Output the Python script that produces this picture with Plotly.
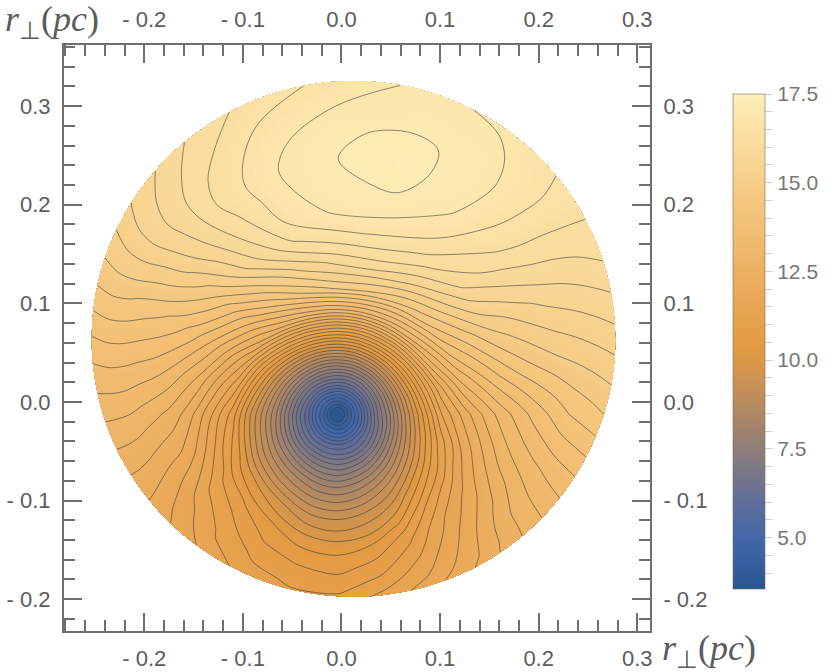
import math
import plotly.graph_objects as go

# Field, one row per ray from the central minimum.
RAY_DEG = [0, 15, 30, 45, 60, 75, 90, 105, 120, 135, 150, 165, 180, 195, 210, 225, 240, 255, 270, 285, 300, 315, 330, 345, 360]
# Inner rings at fixed radius (pc), outer rings as a fraction of the way to the disc edge
RING_R = [0, .0071, .0152, .0233, .0304, .0406, .0507, .0619, .074, .0892, .1065, .1288]
RING_F = [.125, .25, .375, .5, .625, .75, .875, 1]

Z_RAY_000 = [3.55,4.0,4.7,5.4,6.1,7.0,7.7,8.6,9.5,10.5,11.55,12.25,12.7,13.1,13.4,13.7,13.95,14.2,14.35,14.5]
Z_RAY_015 = [3.55,4.0,4.72,5.45,6.15,7.05,7.85,8.8,9.75,10.9,12.0,13.0,13.55,14.0,14.35,14.6,14.8,14.95,15.1,15.25]
Z_RAY_030 = [3.55,4.0,4.73,5.45,6.2,7.1,7.95,8.95,10.0,11.2,12.6,13.7,14.3,14.8,15.1,15.35,15.55,15.7,15.85,16.0]
Z_RAY_045 = [3.55,4.0,4.75,5.5,6.2,7.1,8.0,9.05,10.15,11.45,13.0,14.2,15.0,15.65,16.0,16.25,16.42,16.5,16.55,16.55]
Z_RAY_060 = [3.55,4.0,4.75,5.5,6.2,7.1,8.05,9.1,10.25,11.6,13.2,14.5,15.5,16.2,16.6,16.88,17.02,17.08,17.0,16.85]
Z_RAY_075 = [3.55,4.0,4.75,5.5,6.2,7.1,8.05,9.1,10.25,11.65,13.3,14.8,15.85,16.5,16.93,17.22,17.32,17.28,17.02,16.98]
Z_RAY_090 = [3.55,4.0,4.75,5.5,6.2,7.1,8.05,9.1,10.25,11.65,13.3,14.9,15.8,16.5,16.98,17.17,17.2,17.15,16.92,16.7]
Z_RAY_105 = [3.55,4.0,4.75,5.5,6.2,7.1,8.0,9.05,10.2,11.6,13.2,14.6,15.5,16.25,16.65,16.8,16.87,16.78,16.62,16.45]
Z_RAY_120 = [3.55,4.0,4.73,5.45,6.15,7.05,7.95,8.95,10.05,11.4,12.9,14.0,14.85,15.55,15.9,16.15,16.3,16.27,16.13,15.98]
Z_RAY_135 = [3.55,4.0,4.72,5.4,6.1,6.95,7.85,8.8,9.8,11.05,12.4,13.3,14.0,14.55,14.95,15.25,15.42,15.55,15.52,15.37]
Z_RAY_150 = [3.55,4.0,4.7,5.35,6.05,6.85,7.7,8.6,9.5,10.6,11.8,12.7,13.3,13.75,14.05,14.25,14.4,14.55,14.63,14.6]
Z_RAY_165 = [3.55,4.0,4.7,5.3,5.95,6.75,7.55,8.4,9.2,10.2,11.3,12.1,12.65,13.0,13.3,13.5,13.62,13.72,13.77,13.75]
Z_RAY_180 = [3.55,4.0,4.7,5.3,5.9,6.6,7.4,8.2,8.9,9.75,10.75,11.55,12.0,12.35,12.6,12.75,12.88,13.0,13.05,13.08]
Z_RAY_195 = [3.55,4.0,4.67,5.25,5.85,6.55,7.3,8.05,8.75,9.55,10.45,11.2,11.55,11.85,12.05,12.15,12.25,12.35,12.42,12.45]
Z_RAY_210 = [3.55,4.0,4.65,5.25,5.85,6.5,7.2,7.95,8.6,9.3,10.1,10.8,10.98,11.15,11.32,11.48,11.62,11.72,11.82,11.9]
Z_RAY_225 = [3.55,4.0,4.63,5.2,5.8,6.45,7.15,7.85,8.5,9.15,9.9,10.55,10.7,10.85,10.95,11.05,11.15,11.22,11.32,11.43]
Z_RAY_240 = [3.55,4.0,4.62,5.2,5.8,6.45,7.1,7.75,8.4,9.0,9.7,10.3,10.42,10.52,10.62,10.72,10.82,10.9,11.0,11.07]
Z_RAY_255 = [3.55,4.0,4.6,5.2,5.8,6.4,7.05,7.65,8.25,8.85,9.45,10.1,10.22,10.35,10.48,10.58,10.68,10.76,10.85,10.92]
Z_RAY_270 = [3.55,4.0,4.6,5.2,5.8,6.4,7.0,7.6,8.2,8.8,9.4,10.0,10.15,10.3,10.42,10.52,10.62,10.72,10.82,10.95]
Z_RAY_285 = [3.55,4.0,4.6,5.2,5.8,6.4,7.05,7.7,8.3,8.9,9.5,10.1,10.3,10.45,10.6,10.72,10.85,11.0,11.15,11.3]
Z_RAY_300 = [3.55,4.0,4.62,5.25,5.85,6.45,7.15,7.8,8.45,9.1,9.7,10.4,10.65,10.85,11.0,11.15,11.3,11.42,11.55,11.7]
Z_RAY_315 = [3.55,4.0,4.65,5.25,5.9,6.55,7.25,8.0,8.65,9.4,10.15,10.95,11.2,11.45,11.6,11.75,11.87,11.98,12.08,12.2]
Z_RAY_330 = [3.55,4.0,4.67,5.3,5.95,6.7,7.4,8.2,8.95,9.75,10.55,11.35,11.7,11.95,12.15,12.35,12.55,12.7,12.78,12.85]
Z_RAY_345 = [3.55,4.0,4.7,5.35,6.0,6.85,7.55,8.4,9.25,10.15,11.0,11.8,12.2,12.55,12.85,13.05,13.22,13.36,13.48,13.58]

Z_RAYS = [Z_RAY_000, Z_RAY_015, Z_RAY_030, Z_RAY_045, Z_RAY_060, Z_RAY_075, Z_RAY_090, Z_RAY_105,
          Z_RAY_120, Z_RAY_135, Z_RAY_150, Z_RAY_165, Z_RAY_180, Z_RAY_195, Z_RAY_210, Z_RAY_225,
          Z_RAY_240, Z_RAY_255, Z_RAY_270, Z_RAY_285, Z_RAY_300, Z_RAY_315, Z_RAY_330, Z_RAY_345, Z_RAY_000]

COLOR_Z = [3.55, 5, 6, 7.5, 9, 10.3, 12.0, 15, 17.5]
COLOR_HEX = ["#27568f", "#4468ab", "#5f6d9b", "#8e7d79", "#bf8d5c", "#e39a42", "#eaaa5a", "#f7cd87", "#fdeeb8"]
Z_MIN, Z_MAX = 3.55, 17.5

MAJOR_X = [-0.2, -0.1, 0.0, 0.1, 0.2, 0.3]
MAJOR_X_TEXT = ["- 0.2", "- 0.1", "0.0", "0.1", "0.2", "0.3"]
MAJOR_Y = [-0.2, -0.1, 0.0, 0.1, 0.2, 0.3]
MAJOR_Y_TEXT = ["- 0.2", "- 0.1", "0.0", "0.1", "0.2", "0.3"]
CB_TICKS = [3.5 + 0.5 * i for i in range(1, 29)]
CB_LABELS = {5.0: "5.0", 7.5: "7.5", 10.0: "10.0", 12.5: "12.5", 15.0: "15.0", 17.5: "17.5"}

XR = [-0.2814, 0.3129]
YR = [-0.2323, 0.3620]
SINK = (-0.0039, -0.0127)        # centre of the rings
DISC = (0.0122, 0.0639, 0.2655, 0.2615)  # disc centre and radii


def edge_distance(deg):
    c, s = math.cos(math.radians(deg)), math.sin(math.radians(deg))
    ox, oy = (SINK[0] - DISC[0]) / DISC[2], (SINK[1] - DISC[1]) / DISC[3]
    dx, dy = c / DISC[2], s / DISC[3]
    A, B, C = dx * dx + dy * dy, 2 * (ox * dx + oy * dy), ox * ox + oy * oy - 1
    return (-B + math.sqrt(B * B - 4 * A * C)) / (2 * A)


grid_x, grid_y = [], []
for deg in RAY_DEG:
    R = edge_distance(deg)
    radii = RING_R + [RING_R[-1] + f * (R - RING_R[-1]) for f in RING_F]
    c, s = math.cos(math.radians(deg)), math.sin(math.radians(deg))
    grid_x.append([SINK[0] + r * c for r in radii])
    grid_y.append([SINK[1] + r * s for r in radii])

a_idx = list(range(len(RING_R) + len(RING_F)))
colorscale = [[(z - Z_MIN) / (Z_MAX - Z_MIN), h] for z, h in zip(COLOR_Z, COLOR_HEX)]

hidden = dict(showgrid=False, showline=False, showticklabels="none", startline=False, endline=False,
              minorgridcount=0, smoothing=1)

fig = go.Figure()
fig.add_trace(go.Carpet(carpet="c", a=a_idx, b=RAY_DEG, x=grid_x, y=grid_y, aaxis=hidden, baxis=hidden,
                        xaxis="x", yaxis="y"))
fig.add_trace(go.Contourcarpet(
    carpet="c", a=a_idx, b=RAY_DEG, z=Z_RAYS, autocontour=False,
    contours=dict(coloring="fill", start=3.505, end=17.505, size=0.1, showlines=False),
    line=dict(width=0), colorscale=colorscale, zmin=Z_MIN, zmax=Z_MAX, zauto=False,
    colorbar=dict(
        x=(733 - 64) / 586, xanchor="left", xpad=0, y=(631 - 94) / 586, yanchor="top", ypad=0,
        len=495, lenmode="pixels", thickness=32, thicknessmode="pixels",
        outlinecolor="rgba(120,110,90,0.6)", outlinewidth=1,
        tickmode="array", tickvals=CB_TICKS,
        ticktext=[CB_LABELS.get(t, " ") for t in CB_TICKS],
        ticks="outside", ticklen=8, tickwidth=1, tickcolor="#cfcfcf",
        tickfont=dict(family="Liberation Sans", size=21, color="#777777"),
    ),
))
fig.add_trace(go.Contourcarpet(
    carpet="c", a=a_idx, b=RAY_DEG, z=Z_RAYS, autocontour=False,
    contours=dict(coloring="none", start=4.001, end=17.201, size=0.3),
    line=dict(width=0.9, color="rgba(55,55,50,0.62)"), showscale=False,
))
fig.add_trace(go.Scatter(x=[None], y=[None], xaxis="x2", yaxis="y2", showlegend=False, hoverinfo="skip"))

tick_font = dict(family="Liberation Sans", size=22, color="#5c5c5c")
axis_common = dict(
    showgrid=False, zeroline=False, showline=True, linecolor="#6e6e6e", linewidth=2,
    ticks="inside", ticklen=18, tickwidth=2, tickcolor="#6e6e6e", tickmode="array",
    tickfont=tick_font, ticklabelstandoff=7,
    minor=dict(ticks="inside", ticklen=11, tickwidth=2, tickcolor="#6e6e6e", tick0=0, dtick=0.02, showgrid=False),
)
fig.update_layout(
    width=830, height=672, autosize=False, paper_bgcolor="white", plot_bgcolor="white",
    margin=dict(l=64, r=180, t=45, b=41, autoexpand=False), showlegend=False,
    xaxis=dict(range=XR, tickvals=MAJOR_X, ticktext=MAJOR_X_TEXT, side="bottom", anchor="y", **axis_common),
    yaxis=dict(range=YR, tickvals=MAJOR_Y, ticktext=MAJOR_Y_TEXT, side="left", anchor="x", **axis_common),
    xaxis2=dict(range=XR, tickvals=MAJOR_X, ticktext=MAJOR_X_TEXT, side="top", anchor="y2", overlaying="x", **axis_common),
    yaxis2=dict(range=YR, tickvals=MAJOR_Y, ticktext=MAJOR_Y_TEXT, side="right", anchor="x2", overlaying="y", **axis_common),
    annotations=[
        dict(text="<i>r</i><sub>⊥</sub>(<i>pc</i>)", xref="paper", yref="paper", x=(3 - 64) / 586, y=(631 - 21) / 586,
             xanchor="left", yanchor="middle", showarrow=False,
             font=dict(family="Liberation Serif", size=36, color="#5c5c5c")),
        dict(text="<i>r</i><sub>⊥</sub>(<i>pc</i>)", xref="paper", yref="paper", x=(660 - 64) / 586, y=(631 - 650) / 586,
             xanchor="left", yanchor="middle", showarrow=False,
             font=dict(family="Liberation Serif", size=36, color="#5c5c5c")),
    ],
)
fig.write_html("out.html", post_script="document.body.style.margin='0';", config={"displayModeBar": False})
